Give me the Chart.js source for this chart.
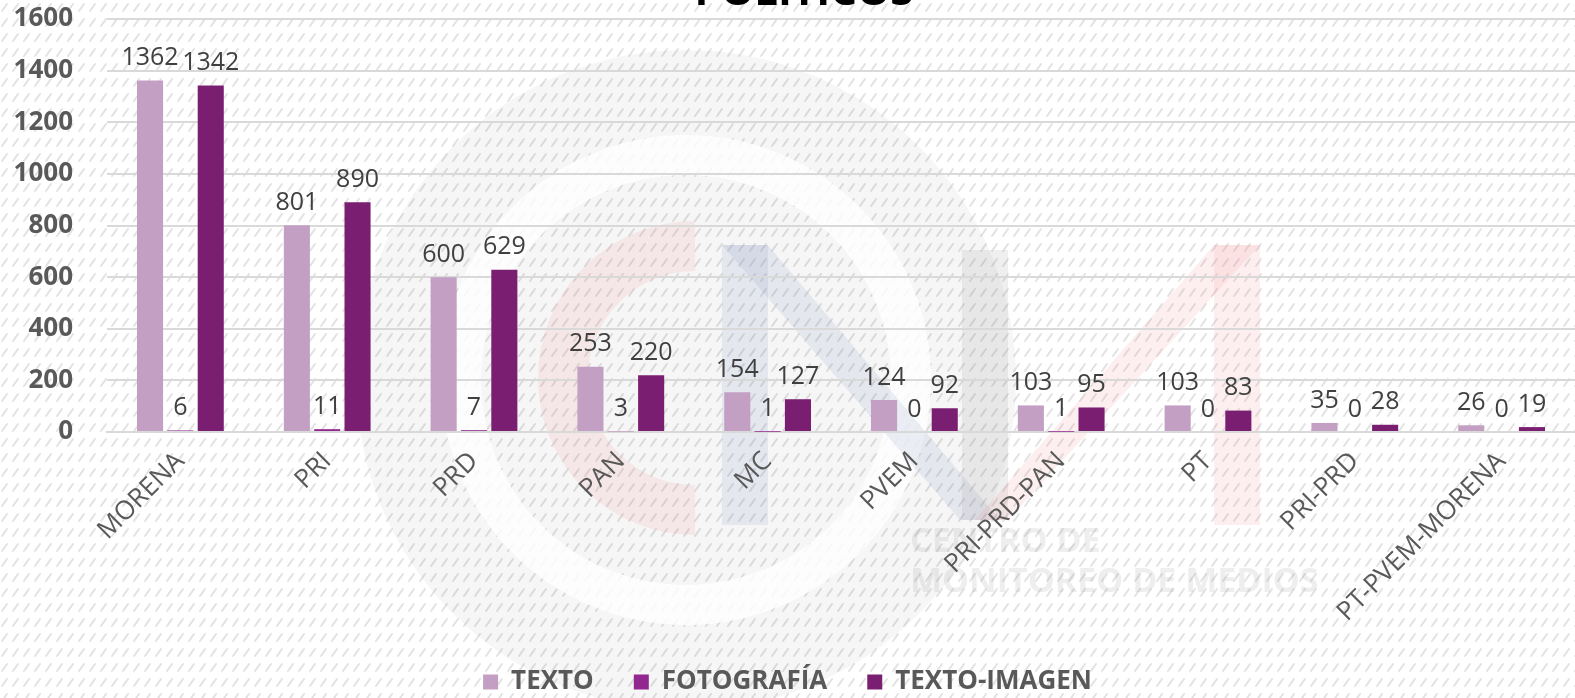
<!DOCTYPE html>
<html>
<head>
<meta charset="utf-8">
<script src="https://cdn.jsdelivr.net/npm/chart.js@4/dist/chart.umd.min.js"></script>
<style>
  html, body { margin: 0; padding: 0; background: #fff; }
  canvas { display: block; }
</style>
</head>
<body>
<canvas id="grafica" width="1575" height="698"></canvas>
<script>
// datos del grafico
const partidos = ['MORENA', 'PRI', 'PRD', 'PAN', 'MC', 'PVEM', 'PRI-PRD-PAN', 'PT', 'PRI-PRD', 'PT-PVEM-MORENA'];
const texto = [1362, 801, 600, 253, 154, 124, 103, 103, 35, 26];
const fotografia = [6, 11, 7, 3, 1, 0, 1, 0, 0, 0];
const textoImagen = [1342, 890, 629, 220, 127, 92, 95, 83, 28, 19];
const ticksY = [0, 200, 400, 600, 800, 1000, 1200, 1400, 1600];

const gris = '#595959';

// fondo rayado + marca de agua
function crearPatron() {
    const c = document.createElement('canvas');
    c.width = 11;
    c.height = 15;
    const g = c.getContext('2d');
    g.fillStyle = '#ffffff';
    g.fillRect(0, 0, 11, 15);
    g.strokeStyle = '#e2e2e2';
    g.lineWidth = 2;
    g.lineCap = 'round';
    g.beginPath();
    g.moveTo(2, 11);
    g.lineTo(7, 4);
    g.stroke();
    return g.createPattern(c, 'repeat');
}

const fondo = {
    id: 'fondo',
    beforeDraw(chart) {
        const ctx = chart.ctx;
        ctx.save();
        ctx.fillStyle = crearPatron();
        ctx.fillRect(0, 0, chart.width, chart.height);

        // logo tenue (CMM)
        ctx.globalAlpha = 0.035;
        ctx.fillStyle = '#000';
        ctx.beginPath();
        ctx.arc(686, 380, 330, 0, Math.PI * 2);
        ctx.fill();
        ctx.globalAlpha = 0.8;
        ctx.strokeStyle = '#ffffff';
        ctx.lineWidth = 40;
        ctx.beginPath();
        ctx.arc(686, 380, 225, 0, Math.PI * 2);
        ctx.stroke();

        ctx.globalAlpha = 0.14;
        ctx.strokeStyle = '#f08c8c';
        ctx.lineWidth = 50;
        ctx.beginPath();
        ctx.arc(695, 378, 132, -Math.PI / 2, Math.PI / 2, true);
        ctx.stroke();

        ctx.fillStyle = '#7f8fc0';
        ctx.fillRect(722, 245, 46, 280);
        ctx.beginPath();
        ctx.moveTo(722, 245);
        ctx.lineTo(768, 245);
        ctx.lineTo(1000, 520);
        ctx.lineTo(960, 520);
        ctx.closePath();
        ctx.fill();
        ctx.fillStyle = '#909090';
        ctx.fillRect(962, 250, 46, 270);
        ctx.fillStyle = '#f08c8c';
        ctx.fillRect(1214, 245, 46, 280);
        ctx.beginPath();
        ctx.moveTo(1214, 245);
        ctx.lineTo(1260, 245);
        ctx.lineTo(1008, 520);
        ctx.lineTo(975, 520);
        ctx.closePath();
        ctx.fill();

        ctx.globalAlpha = 0.13;
        ctx.fillStyle = '#7a7a7a';
        ctx.font = 'bold 34px "Open Sans"';
        ctx.textBaseline = 'middle';
        ctx.fillText('CENTRO DE', 910, 542);
        ctx.fillText('MONITOREO DE MEDIOS', 910, 582);
        ctx.restore();
    },
    afterDraw(chart) {
        // titulo cortado arriba
        const ctx = chart.ctx;
        ctx.save();
        ctx.fillStyle = '#000';
        ctx.font = 'bold 42px "Open Sans"';
        ctx.textAlign = 'center';
        ctx.textBaseline = 'alphabetic';
        ctx.fillText('POLITICOS', 804, 5);
        ctx.restore();
    }
};

// etiquetas con el valor arriba de cada barra
const etiquetas = {
    id: 'etiquetas',
    afterDatasetsDraw(chart) {
        const ctx = chart.ctx;
        ctx.save();
        ctx.fillStyle = '#404040';
        ctx.font = '25px "Open Sans"';
        ctx.textAlign = 'center';
        ctx.textBaseline = 'bottom';
        chart.data.datasets.forEach((ds, i) => {
            chart.getDatasetMeta(i).data.forEach((bar, j) => {
                ctx.fillText(ds.data[j], bar.x, bar.y - 10);
            });
        });
        ctx.restore();
    }
};

new Chart(document.getElementById('grafica'), {
    type: 'bar',
    data: {
        labels: partidos,
        datasets: [
            { label: 'TEXTO', data: texto, backgroundColor: '#c39fc3' },
            { label: 'FOTOGRAFÍA', data: fotografia, backgroundColor: '#92278f' },
            { label: 'TEXTO-IMAGEN', data: textoImagen, backgroundColor: '#7a1e72' }
        ]
    },
    options: {
        responsive: false,
        animation: false,
        categoryPercentage: 0.62,
        barPercentage: 0.86,
        layout: { padding: { top: 19, right: 0, left: 0, bottom: -7 } },
        plugins: {
            title: { display: false },
            tooltip: { enabled: false },
            legend: {
                position: 'bottom',
                labels: {
                    color: gris,
                    font: { family: 'Open Sans', size: 26, weight: 'bold' },
                    boxWidth: 15,
                    boxHeight: 15,
                    padding: 40
                }
            }
        },
        scales: {
            x: {
                grid: { display: false },
                border: { color: '#d9d9d9', width: 2 },
                ticks: {
                    color: gris,
                    font: { family: 'Open Sans', size: 26 },
                    minRotation: 45,
                    maxRotation: 45,
                    padding: 6
                },
                afterFit(scale) { scale.height = 197; }
            },
            y: {
                min: 0,
                max: 1600,
                afterBuildTicks(scale) { scale.ticks = ticksY.map(v => ({ value: v })); },
                grid: { color: '#d9d9d9', lineWidth: 2, drawTicks: false },
                border: { display: false },
                ticks: {
                    color: gris,
                    font: { family: 'Open Sans', size: 26, weight: 'bold' },
                    padding: 34,
                    callback: v => String(v)
                },
                afterFit(scale) {
                    scale.width = 107;
                    scale.paddingTop = 0;
                    scale.paddingBottom = 0;
                }
            }
        }
    },
    plugins: [fondo, etiquetas]
});
</script>
</body>
</html>
